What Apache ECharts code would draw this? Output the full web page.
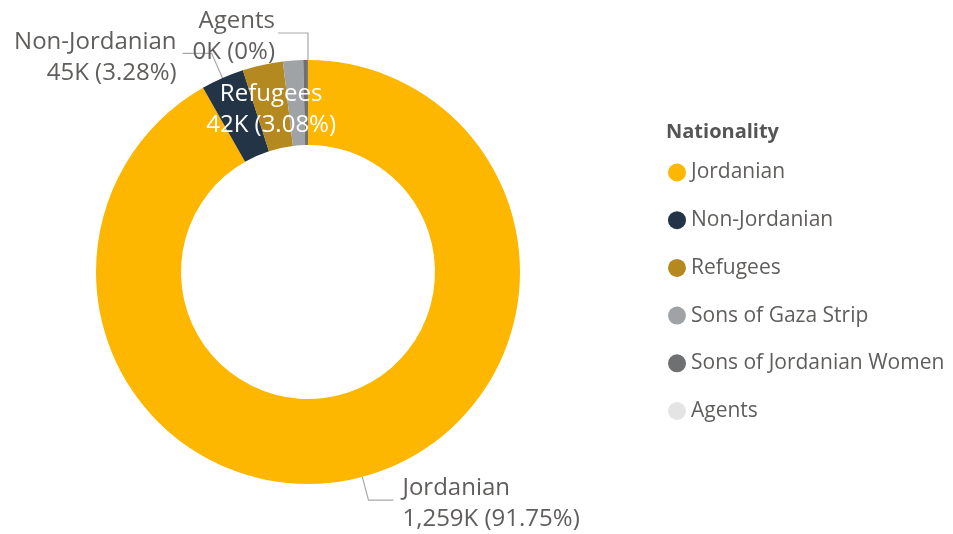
<!DOCTYPE html>
<html>
<head>
<meta charset="utf-8">
<script src="https://cdn.jsdelivr.net/npm/echarts@6/dist/echarts.min.js"></script>
<style>
html,body{margin:0;padding:0;background:#fff;}
#chart{width:953px;height:534px;}
</style>
</head>
<body>
<div id="chart"></div>
<script>
// Data (thousands)
const categories = ['Jordanian', 'Non-Jordanian', 'Refugees', 'Sons of Gaza Strip', 'Sons of Jordanian Women', 'Agents'];
const values = [1259, 45, 42.26, 21.0, 4.9, 0.04];
const colors = ['#FDB700', '#243447', '#B38920', '#A0A3A5', '#6E7071', '#E4E4E4'];
const legendTitle = 'Nationality';

const FONT = "'Segoe UI', 'Open Sans', sans-serif";
const total = values.reduce((a, b) => a + b, 0);

function fmtLabel(name, v, spacer) {
  const k = Math.round(v).toLocaleString('en-US');
  let p = (v / total * 100).toFixed(2);
  p = p.replace(/\.?0+$/, '');
  const body = '{a|' + name + '}\n{a|' + k + 'K (' + p + '%)}';
  return spacer ? '{' + spacer + '| }\n' + body : body;
}

const labelCfg = {
  'Jordanian': { show: true, position: 'outside', len: 24, len2: 25, dist: 9 },
  'Non-Jordanian': { show: true, position: 'outside', len: 27, len2: 29, dist: 6 },
  'Refugees': { show: true, position: 'inside' },
  'Sons of Gaza Strip': { show: false },
  'Sons of Jordanian Women': { show: false },
  'Agents': { show: true, position: 'outside', len: 27, len2: 30, dist: 3 }
};

function richFor(color) {
  return {
    a: { fontFamily: FONT, fontSize: 24, lineHeight: 31, color: color },
    t: { fontSize: 1, lineHeight: 13, color: 'transparent' }
  };
}

const data = categories.map((c, i) => {
  const cfg = labelCfg[c];
  const item = { name: c, value: values[i], itemStyle: { color: colors[i] } };
  if (!cfg.show) {
    item.label = { show: false };
    item.labelLine = { show: false };
  } else if (cfg.position === 'inside') {
    item.label = {
      show: true, position: 'inside', color: '#ffffff', rich: richFor('#ffffff'),
      formatter: p => fmtLabel(p.name, p.value, 't')
    };
    item.labelLine = { show: false };
  } else {
    item.label = { show: true, position: 'outside', distanceToLabelLine: cfg.dist };
    item.labelLine = { show: true, length: cfg.len, length2: cfg.len2 };
  }
  return item;
});

const chart = echarts.init(document.getElementById('chart'));
chart.setOption({
  animation: false,
  title: {
    text: legendTitle,
    left: 661, top: 117,
    textStyle: { fontFamily: FONT, fontSize: 20, fontWeight: 'bold', color: '#555555' }
  },
  legend: {
    orient: 'vertical',
    left: 663, top: 157,
    icon: 'circle',
    itemWidth: 18, itemHeight: 18,
    itemGap: 26.7,
    textStyle: { fontFamily: FONT, fontSize: 21, color: '#605E5C' },
    data: categories
  },
  series: [{
    type: 'pie',
    center: [308, 272],
    radius: [127, 212],
    startAngle: 90,
    clockwise: true,
    avoidLabelOverlap: false,
    minShowLabelAngle: 0,
    label: {
      fontFamily: FONT, fontSize: 24, lineHeight: 31,
      color: '#605E5C',
      formatter: p => fmtLabel(p.name, p.value, null),
      rich: richFor('#605E5C')
    },
    labelLayout: function (params) {
      return params.dataIndex === 2 ? {} : { dy: 4 };
    },
    labelLine: { lineStyle: { color: '#A8A8A8', width: 1.2 }, smooth: false },
    emphasis: { disabled: true },
    itemStyle: { borderWidth: 0 },
    data: data
  }]
});
</script>
</body>
</html>
